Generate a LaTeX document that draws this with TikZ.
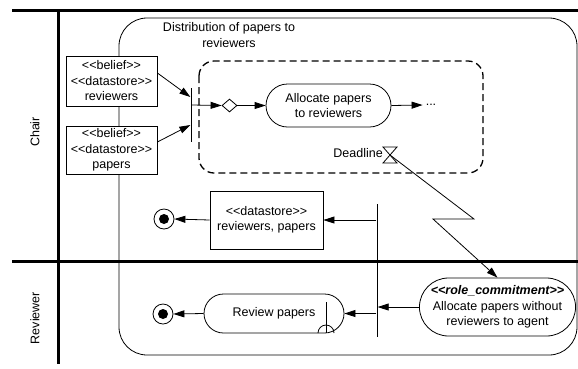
\documentclass[tikz,border=0pt]{standalone}
\usepackage{fontspec}
\newfontfamily\diafont{Liberation Sans}
\usetikzlibrary{arrows.meta,shapes.geometric,shapes.misc,positioning}
\tikzset{
  every node/.style={font=\diafont\fontsize{12.5}{15.5}\selectfont},
  lane/.style={line width=3pt},
  flow/.style={line width=0.8pt, -{Triangle[length=11pt,width=7pt]}},
  store/.style={draw, line width=0.8pt, fill=white, align=center, inner sep=2pt},
  action/.style={draw, line width=0.8pt, fill=white, rounded rectangle, align=center, inner sep=2pt},
  bar/.style={fill=black, inner sep=0pt, minimum width=0.9pt},
  decision/.style={draw, line width=0.8pt, fill=white, diamond, inner sep=0pt, minimum width=15pt, minimum height=13pt},
  final/.style={circle, draw, line width=0.8pt, fill=white, minimum size=20pt, inner sep=0pt,
    path picture={\fill[black] (path picture bounding box.center) circle (5pt);}},
}
\begin{document}
\begin{tikzpicture}[x=1pt,y=-1pt]
  \useasboundingbox (0,0) rectangle (578,368);
  % activity frame and interruptible region
  \draw[line width=0.8pt, rounded corners=28pt] (119,18) rectangle (577,355);
  \draw[line width=1.3pt, dash pattern=on 7pt off 4pt, rounded corners=15pt] (199,61) rectangle (483,173);
  \node[align=center] (title) at (229,35) {Distribution of papers to\\reviewers};
  % swimlanes
  \draw[lane] (12,10) -- (578,10);
  \draw[lane] (12,261) -- (578,261);
  \draw[lane] (58,10) -- (58,364);
  \node[rotate=90] (chair) at (35,132) {Chair};
  \node[rotate=90] (reviewer) at (35,318) {Reviewer};
  % chair lane
  \node[store, minimum width=91pt, minimum height=50pt] (revstore) at (111.5,81) {<<belief>>\\<<datastore>>\\reviewers};
  \node[store, minimum width=91pt, minimum height=48pt] (papstore) at (111.5,150) {<<belief>>\\<<datastore>>\\papers};
  \node[bar, minimum height=54pt] (join) at (191,115) {};
  \node[decision] (choice) at (229.5,105.5) {};
  \node[action, minimum width=129pt, minimum height=43pt] (allocate) at (328.5,105.5) {Allocate papers\\to reviewers};
  \node[inner sep=3pt] (more) at (431,105) {...};
  \draw[flow] ([yshift=8pt]revstore.east) -- ([yshift=18pt]join.west);
  \draw[flow] ([yshift=8pt]papstore.east) -- ([yshift=-10pt]join.west);
  \draw[flow] ([yshift=10pt]join.east) -- (choice.west);
  \draw[flow] (choice.east) -- (allocate.west);
  \draw[flow] (allocate.east) -- (more.west);
  %	deadline and its signal
  \coordinate (timer) at (390,155);
  \draw[line width=0.8pt] (timer) ++(-7,-8) -- ++(14,0) -- ++(-14,16) -- ++(14,0) -- cycle;
  \node[anchor=east, inner sep=1pt] (deadline) at (384,153) {Deadline};
  \coordinate (zig1) at (474,219);
  \coordinate (zig2) at (433,219);
  \node[store, minimum width=113pt, minimum height=58pt] (outstore) at (266.5,220) {<<datastore>>\\reviewers, papers};
  \node[final] (end1) at (164,219) {};
  % reviewer lane
  \node[action, minimum width=155pt, minimum height=58pt] (commit) at (497.5,307) {\textbf{\textit{<<role\_commitment>>}}\\Allocate papers without\\reviewers to agent};
  \node[bar, minimum height=133pt] (fork) at (377,270.5) {};
  \node[action, minimum width=144pt, minimum height=39pt] (review) at (274,313.5) {Review papers};
  \node[final] (end2) at (163,314) {};
  \coordinate (rake) at (326,333);
  \draw[line width=0.8pt] (rake) -- ++(0,-31);
  \draw[line width=0.8pt] (rake) ++(-8,0) arc[start angle=180, end angle=0, radius=8pt];
  \draw[flow] (timer) -- (zig1) -- (zig2) -- (commit.north);
  \draw[flow] (commit.west) -- (commit.west -| fork.east);
  \draw[flow] (outstore.east -| fork.west) -- (outstore.east);
  \draw[flow] (review.east -| fork.west) -- (review.east);
  \draw[flow] (outstore.west) -- (end1.east);
  \draw[flow] (review.west) -- (end2.east);
\end{tikzpicture}
\end{document}
